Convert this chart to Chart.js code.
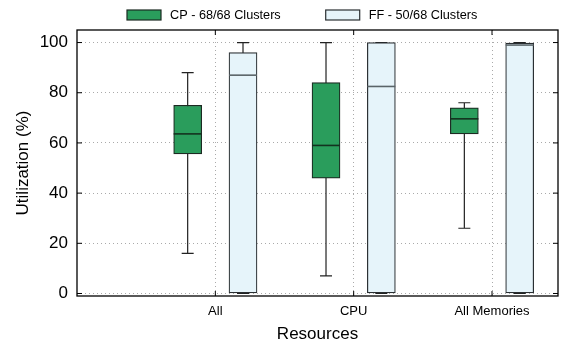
<!DOCTYPE html>
<html>
<head>
<meta charset="utf-8">
<script src="https://cdn.jsdelivr.net/npm/chart.js@4/dist/chart.umd.min.js"></script>
<style>
  html, body { margin: 0; padding: 0; background: #fff; }
  #wrap { width: 561px; height: 345px; }
</style>
</head>
<body>
<div id="wrap"><canvas id="myChart"></canvas></div>
<script>
// data
const categories = ['All', 'CPU', 'All Memories'];
const seriesNames = ['CP - 68/68 Clusters', 'FF - 50/68 Clusters'];
const cpMin = [16, 7, 26];
const cpQ1 = [55.6, 46, 63.6];
const cpMedian = [63.6, 59, 69.6];
const cpQ3 = [75, 84, 74];
const cpMax = [88, 100, 76];
const ffMin = [0, 0, 0];
const ffQ1 = [0, 0, 0];
const ffMedian = [87, 82.5, 99];
const ffQ3 = [96, 100, 99.8];
const ffMax = [100, 100, 100];
const yTicks = [0, 20, 40, 60, 80, 100];

const FONT = "'Liberation Sans', Arial, Helvetica, sans-serif";
const boxOffset = 0.2;

function boxData(q1, q3, shift) {
  return categories.map((c, i) => ({ x: i + 1 + shift, y: [q1[i], q3[i]] }));
}

// whiskers + medians drawn through the scales
const boxPlugin = {
  id: 'boxWhiskers',
  beforeDatasetsDraw(chart) {
    const { ctx } = chart;
    const y = chart.scales.y;
    chart.data.datasets.forEach((ds, di) => {
      const meta = chart.getDatasetMeta(di);
      meta.data.forEach((bar, i) => {
        const yMin = y.getPixelForValue(ds.whiskerMin[i]);
        const yMax = y.getPixelForValue(ds.whiskerMax[i]);
        ctx.save();
        ctx.strokeStyle = '#222';
        ctx.lineWidth = 1.2;
        ctx.beginPath();
        ctx.moveTo(bar.x, yMin); ctx.lineTo(bar.x, yMax);
        ctx.moveTo(bar.x - 6, yMin); ctx.lineTo(bar.x + 6, yMin);
        ctx.moveTo(bar.x - 6, yMax); ctx.lineTo(bar.x + 6, yMax);
        ctx.stroke();
        ctx.restore();
      });
    });
  },
  afterDatasetsDraw(chart) {
    const { ctx } = chart;
    const y = chart.scales.y;
    chart.data.datasets.forEach((ds, di) => {
      const meta = chart.getDatasetMeta(di);
      meta.data.forEach((bar, i) => {
        const ym = y.getPixelForValue(ds.median[i]);
        ctx.save();
        ctx.strokeStyle = ds.medianColor;
        ctx.lineWidth = 1.6;
        ctx.beginPath();
        ctx.moveTo(bar.x - bar.width / 2, ym); ctx.lineTo(bar.x + bar.width / 2, ym);
        ctx.stroke();
        ctx.restore();
      });
    });
  },
  afterDraw(chart) {
    const { ctx, chartArea: a } = chart;
    ctx.save();
    // frame
    ctx.strokeStyle = '#000';
    ctx.lineWidth = 1.3;
    ctx.strokeRect(a.left, a.top, a.right - a.left, a.bottom - a.top);
    // inward ticks
    ctx.lineWidth = 1;
    ctx.beginPath();
    chart.scales.y.ticks.forEach(t => {
      const p = chart.scales.y.getPixelForValue(t.value);
      ctx.moveTo(a.left, p); ctx.lineTo(a.left + 5, p);
      ctx.moveTo(a.right, p); ctx.lineTo(a.right - 5, p);
    });
    chart.scales.x.ticks.forEach(t => {
      const p = chart.scales.x.getPixelForValue(t.value);
      ctx.moveTo(p, a.bottom); ctx.lineTo(p, a.bottom - 5);
      ctx.moveTo(p, a.top); ctx.lineTo(p, a.top + 5);
    });
    ctx.stroke();

    // legend
    ctx.font = '12.7px ' + FONT;
    ctx.textBaseline = 'middle';
    const boxW = 34, boxH = 10, gap = 9, itemGap = 45;
    const ds = chart.data.datasets;
    const widths = ds.map(d => boxW + gap + ctx.measureText(d.label).width);
    let x = 127;
    const yTop = 10;
    ds.forEach((d, i) => {
      ctx.fillStyle = d.backgroundColor;
      ctx.fillRect(x, yTop, boxW, boxH);
      ctx.strokeStyle = d.borderColor;
      ctx.lineWidth = 1.2;
      ctx.strokeRect(x, yTop, boxW, boxH);
      ctx.fillStyle = '#000';
      ctx.fillText(d.label, x + boxW + gap, yTop + boxH / 2 + 0.5);
      x += widths[i] + itemGap;
    });
    ctx.restore();
  }
};

const ctx = document.getElementById('myChart').getContext('2d');
new Chart(ctx, {
  type: 'bar',
  data: {
    datasets: [{
      label: seriesNames[0],
      data: boxData(cpQ1, cpQ3, -boxOffset),
      whiskerMin: cpMin, whiskerMax: cpMax, median: cpMedian,
      medianColor: '#13321f',
      backgroundColor: '#2a9d5c',
      borderColor: '#1c2a22',
      borderWidth: 1.2
    }, {
      label: seriesNames[1],
      data: boxData(ffQ1, ffQ3, boxOffset),
      whiskerMin: ffMin, whiskerMax: ffMax, median: ffMedian,
      medianColor: '#5a6468',
      backgroundColor: '#e6f4fa',
      borderColor: '#2a2f32',
      borderWidth: 1.2
    }]
  },
  options: {
    responsive: true,
    maintainAspectRatio: false,
    animation: false,
    grouped: false,
    barThickness: 28,
    borderSkipped: false,
    layout: { padding: { top: 30, right: 3, left: 0, bottom: 0 } },
    plugins: {
      legend: { display: false },
      tooltip: { enabled: false }
    },
    scales: {
      x: {
        type: 'linear',
        offset: false,
        min: 0,
        max: 3.477,
        afterBuildTicks: s => { s.ticks = categories.map((c, i) => ({ value: i + 1 })); },
        afterFit: s => { s.height = 49; },
        ticks: {
          callback: (v, i) => categories[i],
          font: { family: FONT, size: 13 },
          color: '#000',
          padding: 8,
          maxRotation: 0,
          autoSkip: false
        },
        grid: { color: '#aaa', lineWidth: 1, drawTicks: false, offset: false },
        border: { display: false, dash: [1, 3] },
        title: {
          display: true,
          text: 'Resources',
          font: { family: FONT, size: 17 },
          color: '#000',
          padding: { top: 0, bottom: 0 }
        }
      },
      y: {
        min: -1,
        max: 105,
        afterBuildTicks: s => { s.ticks = yTicks.map(v => ({ value: v })); },
        afterFit: s => { s.width = 77; },
        ticks: {
          font: { family: FONT, size: 17 },
          color: '#000',
          padding: 9
        },
        grid: { color: '#aaa', lineWidth: 1, drawTicks: false },
        border: { display: false, dash: [1, 3] },
        title: {
          display: true,
          text: 'Utilization (%)',
          font: { family: FONT, size: 17 },
          color: '#000',
          padding: { top: 13, bottom: 0 }
        }
      }
    }
  },
  plugins: [boxPlugin]
});
</script>
</body>
</html>
